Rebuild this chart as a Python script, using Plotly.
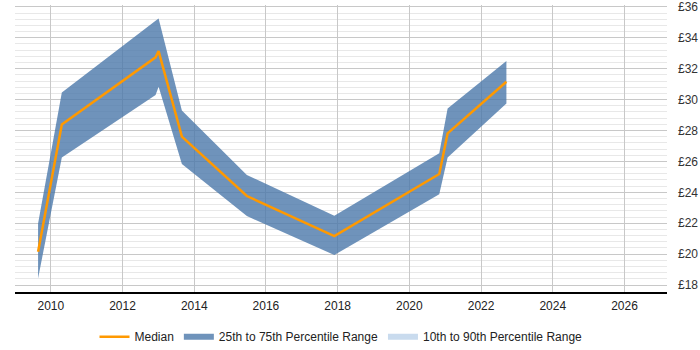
import plotly.graph_objects as go

dates = ["2009-08-24", "2010-04-23", "2012-12-03", "2013-01-03", "2013-08-28",
         "2015-06-21", "2017-11-28", "2020-11-01", "2021-01-25", "2022-09-16"]
median = [20.15, 28.39, 32.73, 33.14, 27.6, 23.76, 21.17, 25.18, 27.81, 31.15]
p75 = [21.99, 30.46, 35.1, 35.25, 29.3, 25.12, 22.48, 26.52, 29.43, 32.5]
p25 = [18.43, 26.26, 30.29, 30.83, 25.83, 22.46, 19.94, 23.87, 26.26, 29.75]
y_ticks = [18, 20, 22, 24, 26, 28, 30, 32, 34, 36]
y_labels = ["£18", "£20", "£22", "£24", "£26", "£28", "£30", "£32", "£34", "£36"]

band_color = "rgba(75,120,170,0.8)"
fig = go.Figure()

fig.add_trace(go.Scatter(
    x=dates + dates[::-1], y=p75 + p25[::-1],
    fill="toself", mode="none", fillcolor=band_color,
    name="25th to 75th Percentile Range", legendrank=2, hoverinfo="skip"))
fig.add_trace(go.Scatter(
    x=[None], y=[None], fill="toself", mode="none",
    fillcolor="rgba(201,219,238,1)",
    name="10th to 90th Percentile Range", legendrank=3, showlegend=True))
fig.add_trace(go.Scatter(
    x=dates, y=median, mode="lines",
    line=dict(color="#ff9900", width=2.5),
    name="Median", legendrank=1))

fig.update_layout(
    width=700, height=350,
    margin=dict(l=15, r=33, t=5, b=58, autoexpand=False),
    paper_bgcolor="white", plot_bgcolor="white",
    font=dict(family="Liberation Sans, Arial, sans-serif", size=12, color="#222"),
    showlegend=True,
    legend=dict(orientation="h", x=0.5, xanchor="center", y=-0.105, yanchor="top",
                font=dict(size=12, color="#222"), traceorder="normal",
                itemwidth=30),
)
fig.update_xaxes(
    type="date", range=["2009-01-01", "2027-03-10"],
    tickformat="%Y", dtick="M24", tick0="2010-01-01",
    showgrid=True, gridcolor="#c8c8c8", gridwidth=1,
    showline=True, linecolor="#000", linewidth=1.5,
    ticks="", zeroline=False, tickfont=dict(size=12, color="#222"),
    ticklabelstandoff=2, automargin=False,
)
fig.update_yaxes(
    side="right", range=[17.55, 36.12],
    tickmode="array", tickvals=y_ticks, ticktext=y_labels,
    showgrid=True, gridcolor="#c8c8c8", gridwidth=1,
    minor=dict(dtick=0.4, tick0=18, showgrid=True, gridcolor="#e8e8e8", gridwidth=1),
    showline=False, zeroline=False, ticks="",
    tickfont=dict(size=12, color="#333"),
    ticklabelstandoff=10, ticklabeloverflow="allow", automargin=False,
)

fig.write_html("out.html")
